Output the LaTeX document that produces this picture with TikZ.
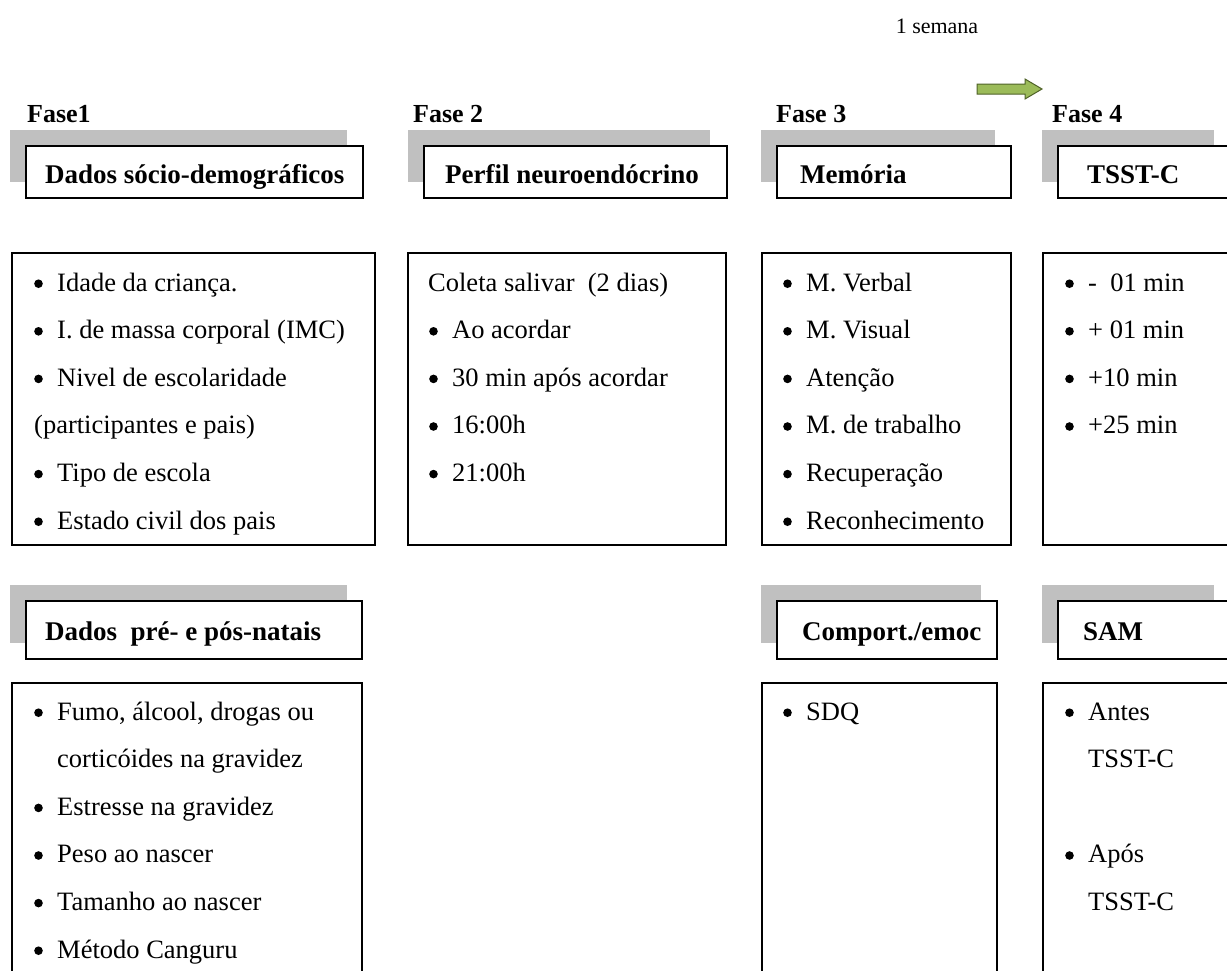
\documentclass[tikz,border=0pt]{standalone}
\usepackage{fontspec}
\setmainfont{Liberation Serif}
\definecolor{cinza}{HTML}{C0C0C0}
\definecolor{verde}{HTML}{9BBB59}
\definecolor{verdeesc}{HTML}{4F6228}
\newcommand{\bala}{\makebox[23pt][l]{\tikz[baseline=-7.3pt]\fill (4.3pt,0pt) circle (4.3pt);}}
\tikzset{
  caixa/.style={draw, line width=1.4pt, fill=white},
  sombra/.style={fill=cinza},
  fase/.style={font=\fontsize{26}{30}\selectfont\bfseries, anchor=base west, inner sep=0pt},
  titulo/.style={font=\fontsize{27}{31}\selectfont\bfseries, anchor=base west, inner sep=0pt},
  linha/.style={font=\fontsize{26.5}{30}\selectfont, anchor=base west, inner sep=0pt},
}

\begin{document}
\begin{tikzpicture}[x=1pt, y=-1pt]
\useasboundingbox (0,0) rectangle (1227,970);
\clip (0,0) rectangle (1227,970);

\node[font=\fontsize{22}{26}\selectfont] (semana) at (937,26) {1 semana};
\draw[fill=verde, draw=verdeesc, line width=1pt]
  (977,84) -- (1025,84) -- (1025,79) -- (1042,89) -- (1025,99) -- (1025,94) -- (977,94) -- cycle;

\node[fase] (f1) at (27,122) {Fase1};
\node[fase] (f2) at (413,122) {Fase 2};
\node[fase] (f3) at (776,122) {Fase 3};
\node[fase] (f4) at (1052,122) {Fase 4};

\fill[sombra] (10,130) rectangle (347,182);
\fill[sombra] (408,130) rectangle (710,182);
\fill[sombra] (761,130) rectangle (995,182);
\fill[sombra] (1042,130) rectangle (1214,182);
\draw[caixa] (26,146) rectangle (363,198);
\draw[caixa] (424,146) rectangle (727,198);
\draw[caixa] (777,146) rectangle (1011,198);
\draw[caixa] (1058,146) rectangle (1240,198);
\node[titulo] (t1) at (45,183) {Dados sócio-demográficos};
\node[titulo] (t2) at (445,183) {Perfil neuroendócrino};
\node[titulo] (t3) at (800,183) {Memória};
\node[titulo] (t4) at (1087,183) {TSST-C};

\draw[caixa] (12,253) rectangle (375,545);
\draw[caixa] (408,253) rectangle (726,545);
\draw[caixa] (762,253) rectangle (1011,545);
\draw[caixa] (1043,253) rectangle (1240,545);

\foreach \txt [count=\i from 0] in {\bala Idade da criança.,\bala I. de massa corporal (IMC),\bala Nivel de escolaridade,(participantes e pais),\bala Tipo de escola,\bala Estado civil dos pais}
  \node[linha] (a\i) at (34,291+47.6*\i) {\txt};
\node[linha] (b0) at (428,291) {Coleta salivar \ (2 dias)};
\foreach \txt [count=\i] in {Ao acordar,30 min após acordar,16:00h,21:00h}
  \node[linha] (b\i) at (429,291+47.6*\i) {\bala\txt};
\foreach \txt [count=\i from 0] in {M. Verbal,M. Visual,Atenção,M. de trabalho,Recuperação,Reconhecimento}
  \node[linha] (c\i) at (783,291+47.6*\i) {\bala\txt};
\foreach \txt [count=\i from 0] in {- \ 01 min,+ 01 min,+10 min,+25 min}
  \node[linha] (d\i) at (1065,291+47.6*\i) {\bala\txt};

\fill[sombra] (10,585) rectangle (347,643);
\fill[sombra] (761,585) rectangle (981,643);
\fill[sombra] (1042,585) rectangle (1214,643);
\draw[caixa] (26,601) rectangle (362,659);
\draw[caixa] (777,601) rectangle (997,659);
\draw[caixa] (1058,601) rectangle (1240,659);
\node[titulo] (t5) at (45,640) {Dados \ pré- e pós-natais};
\node[titulo] (t6) at (802,640) {Comport./emoc};
\node[titulo] (t7) at (1083,640) {SAM};

\draw[caixa] (12,980) |- (362,683) -- (362,980);
\draw[caixa] (762,980) |- (997,683) -- (997,980);
\draw[caixa] (1043,980) |- (1240,683);

\node[linha] (e0) at (34,720) {\bala Fumo, álcool, drogas ou};
\node[linha] (e1) at (57,767.6) {corticóides na gravidez};
\foreach \txt [count=\i from 2] in {Estresse na gravidez,Peso ao nascer,Tamanho ao nascer,Método Canguru}
  \node[linha] (e\i) at (34,720+47.6*\i) {\bala\txt};
\node[linha] (g0) at (783,720) {\bala SDQ};
\node[linha] (h0) at (1065,720) {\bala Antes};
\node[linha] (h1) at (1088,767.6) {TSST-C};
\node[linha] (h2) at (1065,862.8) {\bala Após};
\node[linha] (h3) at (1088,910.4) {TSST-C};
\end{tikzpicture}
\end{document}
